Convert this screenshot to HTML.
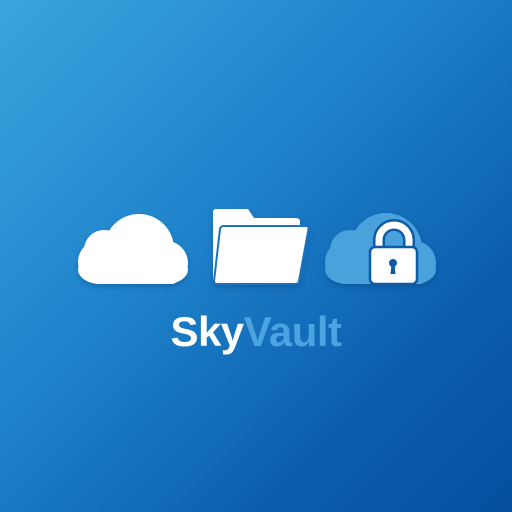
<!DOCTYPE html>
<html><head><style>
html,body{margin:0;padding:0;}
body{width:512px;height:512px;overflow:hidden;background:linear-gradient(135deg,#3aa5de 0%,#1f84cc 40%,#0b5eae 75%,#064e9e 100%);position:relative;}
svg{position:absolute;left:0;top:0;}
.t{position:absolute;left:0;width:512px;top:308px;text-align:center;font-family:"Liberation Sans",sans-serif;font-weight:bold;font-size:42px;letter-spacing:-0.5px;}
</style></head><body>
<svg width="512" height="512" viewBox="0 0 512 512">
<defs>
<filter id="sh" x="-20%" y="-20%" width="140%" height="150%"><feDropShadow dx="0" dy="3" stdDeviation="3" flood-color="#033a7a" flood-opacity="0.35"/></filter>
<clipPath id="c1"><rect x="60" y="200" width="400" height="84"/></clipPath>
</defs>
<g filter="url(#sh)"><g fill="#fff" clip-path="url(#c1)">
<circle cx="104" cy="250" r="20"/><circle cx="139" cy="249" r="35"/><circle cx="166" cy="263" r="22"/><circle cx="100" cy="262" r="22"/>
<rect x="78" y="255" width="110" height="29" rx="22"/>
</g></g>
<g filter="url(#sh)">
<path d="M216 209 H248 L254 218 H296 Q300 218 300 222 V280 Q300 284 296 284 H217 Q213 284 213 280 V212 Q213 209 216 209Z" fill="#fff"/>
<path d="M224 226 H306 Q309 226 308.5 229 L299 281 Q298.5 284 295 284 H217 Q214 284 214 281 L220 229 Q220.5 226 224 226Z" fill="#fff" stroke="#1b72c0" stroke-width="2"/>
</g>
<g filter="url(#sh)"><g fill="#4aa2dc" clip-path="url(#c1)">
<circle cx="350" cy="250" r="20"/><circle cx="386" cy="249" r="36"/><circle cx="414" cy="263" r="22"/><circle cx="347" cy="262" r="22"/>
<rect x="325" y="255" width="111" height="29" rx="22"/>
</g></g>
<path d="M379 250 V240 A15 15 0 0 1 409 240 V250" fill="none" stroke="#0f5aa6" stroke-width="12"/>
<path d="M379 250 V240 A15 15 0 0 1 409 240 V250" fill="none" stroke="#fff" stroke-width="7"/>
<rect x="370" y="247" width="47" height="37" rx="5" fill="#fff" stroke="#0f5aa6" stroke-width="2.5"/>
<circle cx="393" cy="263" r="4" fill="#0f5aa6"/><path d="M391.5 264 L390.5 274 H395.5 L394.5 264Z" fill="#0f5aa6"/>
</svg>
<div class="t"><span style="color:#fff">Sky</span><span style="color:#4ba3e0">Vault</span></div>
</body></html>
